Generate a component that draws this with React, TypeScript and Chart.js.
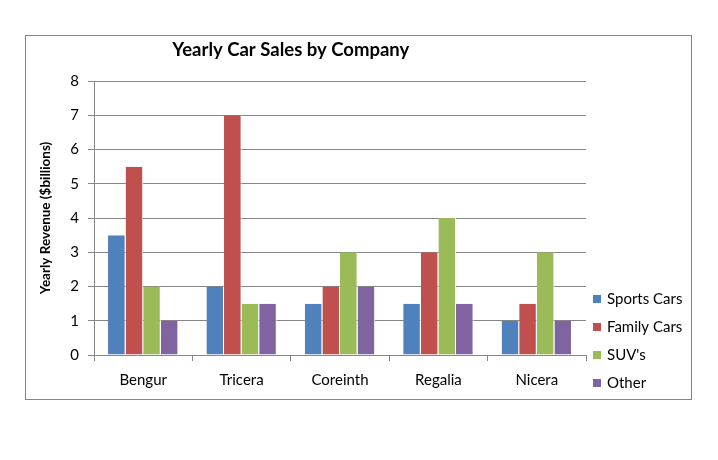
import React, { useEffect, useRef } from "react";
import { Chart, registerables } from "chart.js";

Chart.register(...registerables);

const categories = ["Bengur", "Tricera", "Coreinth", "Regalia", "Nicera"];
const sportsCars = [3.5, 2, 1.5, 1.5, 1];
const familyCars = [5.5, 7, 2, 3, 1.5];
const suvs = [2, 1.5, 3, 4, 3];
const other = [1, 1.5, 2, 1.5, 1];
const seriesNames = ["Sports Cars", "Family Cars", "SUV's", "Other"];
const seriesColors = ["#4F81BD", "#C0504D", "#9BBB59", "#8064A2"];
const chartTitle = "Yearly Car Sales by Company";
const yAxisTitle = "Yearly Revenue ($billions)";
const yMin = 0;
const yMax = 8;
const yStep = 1;

const FONT = "Lato, 'Liberation Sans', sans-serif";
const GRID = "#868686";

const titlePlugin = {
  id: "excelTitle",
  afterDraw(chart: any) {
    const { ctx, chartArea } = chart;
    ctx.save();
    ctx.font = `bold 18.5px ${FONT}`;
    ctx.fillStyle = "#000";
    ctx.textAlign = "center";
    ctx.textBaseline = "middle";
    ctx.fillText(chartTitle, chartArea.left + chartArea.width * 0.4, 14);
    ctx.restore();
  },
};

const legendPlugin = {
  id: "sideLegend",
  afterDraw(chart: any) {
    const { ctx, chartArea } = chart;
    const ds = chart.data.datasets;
    ctx.save();
    ctx.font = `15px ${FONT}`;
    ctx.textBaseline = "middle";
    ctx.textAlign = "left";
    ds.forEach((d: any, i: number) => {
      const y = Math.round(chartArea.bottom - 56 + i * 28);
      ctx.fillStyle = d.backgroundColor;
      ctx.fillRect(Math.round(chartArea.right + 7), y - 4, 8, 8);
      ctx.fillStyle = "#000";
      ctx.fillText(d.label, chartArea.right + 21, y);
    });
    ctx.restore();
  },
};

export default function App() {
  const ref = useRef<HTMLCanvasElement | null>(null);

  useEffect(() => {
    if (!ref.current) return;
    const seriesValues = [sportsCars, familyCars, suvs, other];
    const chart = new Chart(ref.current, {
      type: "bar",
      data: {
        labels: categories,
        datasets: seriesNames.map((name, i) => ({
          label: name,
          data: seriesValues[i],
          backgroundColor: seriesColors[i],
          borderColor: "#ffffff",
          borderWidth: { top: 0, left: 0, bottom: 0, right: 1 },
          borderSkipped: false,
          categoryPercentage: 0.715,
          barPercentage: 1,
        })),
      },
      options: {
        animation: false,
        responsive: false,
        maintainAspectRatio: false,
        devicePixelRatio: 1,
        layout: { padding: { top: 45, right: 105, bottom: 0, left: 0 } },
        plugins: {
          legend: { display: false },
          title: { display: false },
          tooltip: { enabled: false },
        },
        scales: {
          x: {
            grid: {
              display: true,
              drawOnChartArea: false,
              drawTicks: true,
              tickLength: 6,
              color: GRID,
              offset: true,
            },
            border: { display: true, color: GRID },
            ticks: { color: "#000", font: { family: FONT, size: 15 }, padding: 10 },
            afterFit: (s: any) => {
              s.height = 44;
            },
          },
          y: {
            min: yMin,
            max: yMax,
            ticks: {
              stepSize: yStep,
              color: "#000",
              font: { family: FONT, size: 15 },
              padding: 9,
            },
            grid: { color: GRID, tickLength: 6, drawTicks: true },
            border: { display: true, color: GRID },
            title: {
              display: true,
              text: yAxisTitle,
              color: "#000",
              font: { family: FONT, size: 13.5, weight: "bold" },
              padding: { top: 12, bottom: 0 },
            },
            afterFit: (s: any) => {
              s.width = 68;
            },
          },
        },
      } as any,
      plugins: [titlePlugin, legendPlugin],
    });
    return () => chart.destroy();
  }, []);

  return (
    <div
      style={{
        position: "absolute",
        left: 25,
        top: 35,
        width: 665,
        height: 363,
        border: `1px solid ${GRID}`,
        background: "#fff",
      }}
    >
      <canvas ref={ref} width={665} height={363} style={{ display: "block" }} />
    </div>
  );
}
